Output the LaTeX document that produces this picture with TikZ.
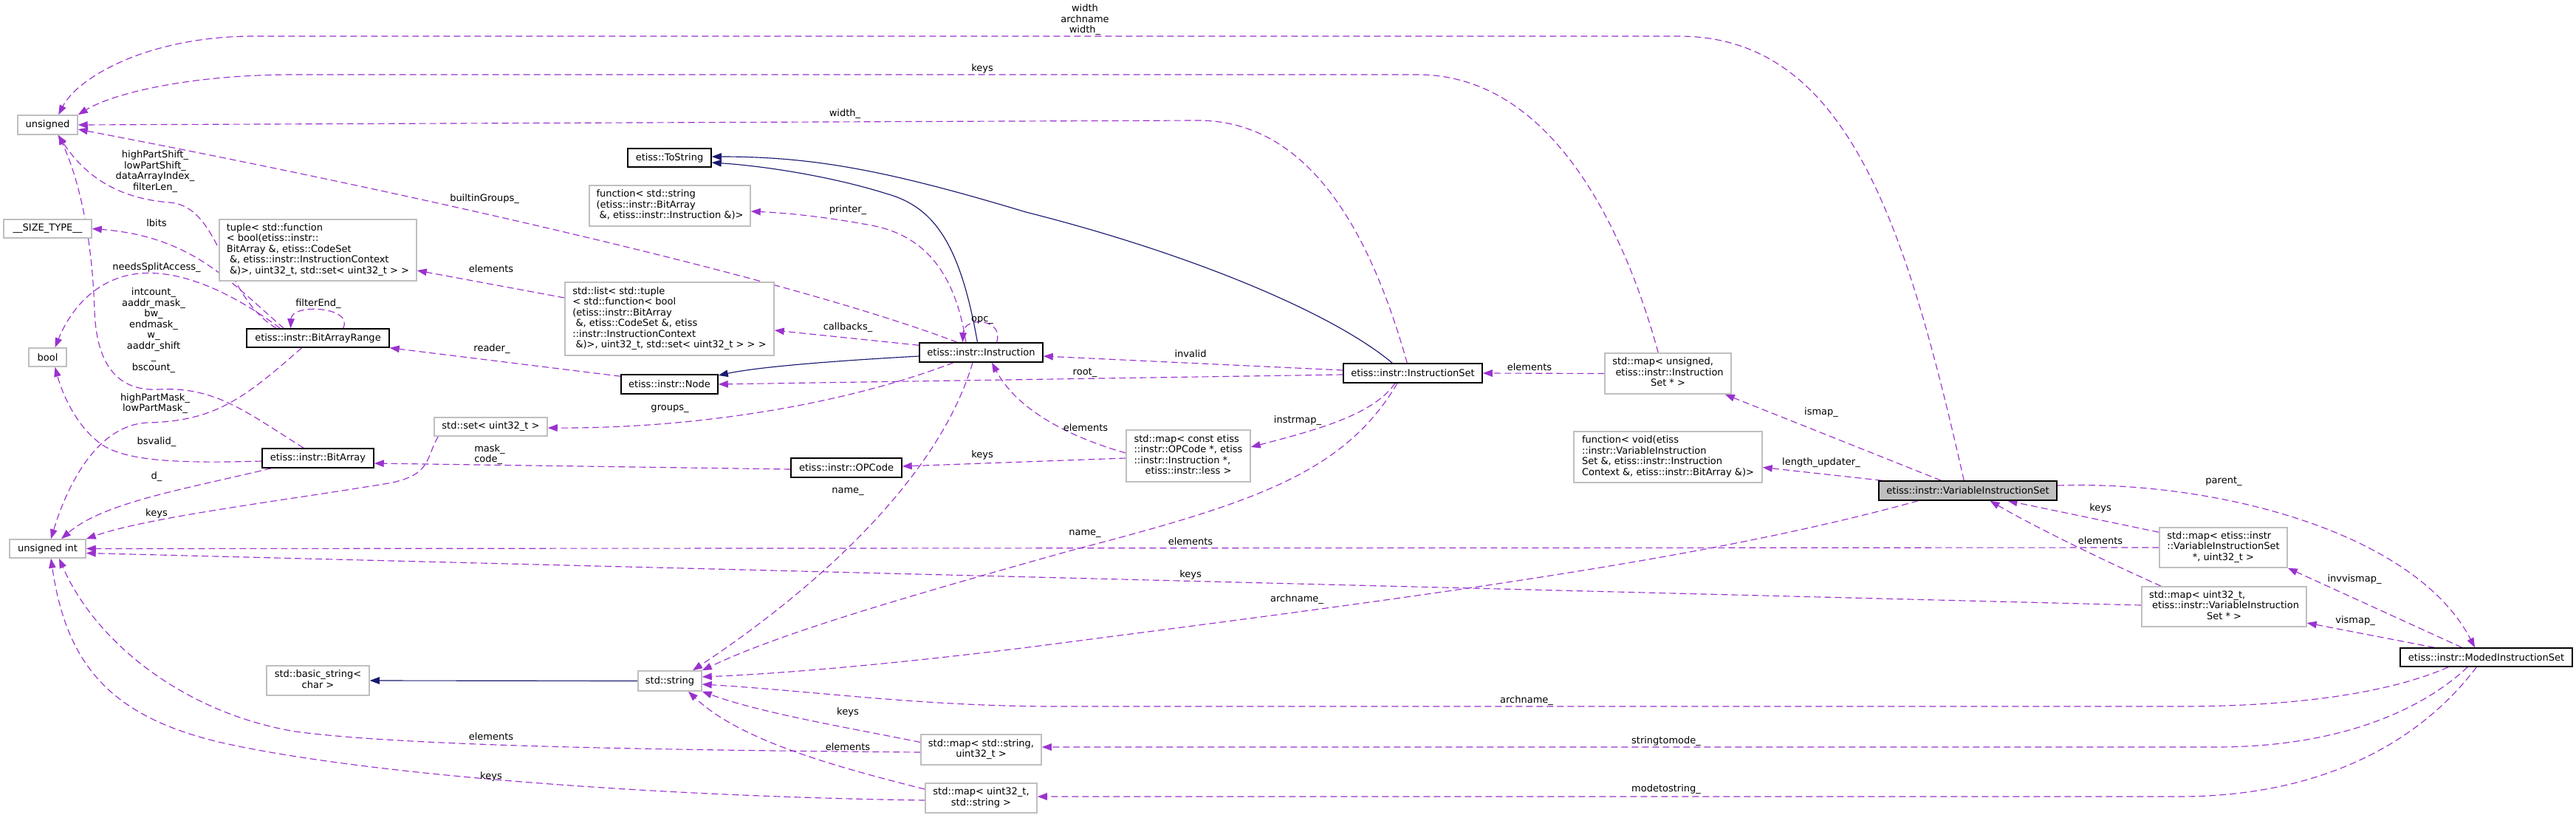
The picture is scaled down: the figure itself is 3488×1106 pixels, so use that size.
\documentclass[tikz,border=0pt]{standalone}
\usepackage{fontspec}
\setmainfont{DejaVu Sans}
\usetikzlibrary{arrows.meta}
\definecolor{dpurple}{HTML}{9A32CD}
\definecolor{dnavy}{HTML}{191970}
\definecolor{grey75}{HTML}{BFBFBF}
\newcommand\dxf{\fontsize{13}{14.5}\selectfont}
\newcommand\ctrline[1]{\multicolumn{1}{@{}c@{}}{#1}}
\pgfdeclarelayer{bg}
\pgfsetlayers{bg,main}
\begin{document}
\begin{tikzpicture}[x=1pt,y=-1pt,
 box/.style={rectangle, inner sep=0pt, line width=1.5pt, fill=white, font=\dxf, minimum height=26pt},
 cls/.style={box, draw=black},
 ext/.style={box, draw=grey75},
 use/.style={draw=dpurple, line width=1.15pt, dash pattern=on 9pt off 5pt, -{Triangle[length=13pt,width=9.5pt]}},
 inh/.style={draw=dnavy, line width=1.15pt, -{Triangle[length=13pt,width=9.5pt]}},
 elab/.style={font=\dxf, inner sep=0pt, align=center},
]
\useasboundingbox (0,0) rectangle (3488,1106);
% ---------- nodes ----------
\node[ext, minimum width=81pt] (uns) at (64.5,169) {unsigned};
\node[ext, minimum width=119pt, minimum height=25pt] (size) at (64.5,309.5) {\_\_SIZE\_TYPE\_\_};
\node[ext, minimum width=51pt, minimum height=25pt] (bool) at (64.5,483.5) {bool};
\node[ext, minimum width=103pt, minimum height=25pt] (uint) at (64.5,742.5) {unsigned int};
\node[ext, minimum width=267pt, minimum height=83pt] (tuple) at (430.5,338.5) {\begin{tabular}{@{}l@{}}tuple< std::function\\< bool(etiss::instr::\\BitArray \&, etiss::CodeSet\\\ \&, etiss::instr::InstructionContext\\\ \&)>, uint32\_t, std::set< uint32\_t > >\end{tabular}};
\node[cls, minimum width=193pt, minimum height=25pt] (bar) at (430.5,457.5) {etiss::instr::BitArrayRange};
\node[cls, minimum width=151pt] (ba) at (430.5,620) {etiss::instr::BitArray};
\node[ext, minimum width=139pt, minimum height=40pt] (bstr) at (430.5,921) {\begin{tabular}{@{}c@{}}std::basic\_string<\\char >\end{tabular}};
\node[ext, minimum width=153pt, minimum height=25pt] (set) at (664.5,577.5) {std::set< uint32\_t >};
\node[cls, minimum width=113pt, minimum height=25pt] (tostr) at (906.5,213.5) {etiss::ToString};
\node[ext, minimum width=218pt, minimum height=55pt] (fstr) at (907,278.5) {\begin{tabular}{@{}l@{}}function< std::string\\(etiss::instr::BitArray\\\ \&, etiss::instr::Instruction \&)>\end{tabular}};
\node[ext, minimum width=283pt, minimum height=99pt] (list) at (906.5,431.5) {\begin{tabular}{@{}l@{}}std::list< std::tuple\\< std::function< bool\\(etiss::instr::BitArray\\\ \&, etiss::CodeSet \&, etiss\\::instr::InstructionContext\\\ \&)>, uint32\_t, std::set< uint32\_t > > >\end{tabular}};
\node[cls, minimum width=131pt] (node) at (906.5,520) {etiss::instr::Node};
\node[cls, minimum width=167pt] (instr) at (1328.5,477) {etiss::instr::Instruction};
\node[cls, minimum width=150pt] (opc) at (1146,633) {etiss::instr::OPCode};
\node[ext, minimum width=86pt, minimum height=27pt] (str) at (907,921.5) {std::string};
\node[ext, minimum width=163pt, minimum height=41pt] (mss) at (1328.5,1014.5) {\begin{tabular}{@{}c@{}}std::map< std::string,\\uint32\_t >\end{tabular}};
\node[ext, minimum width=151pt, minimum height=40pt] (mus) at (1328.5,1080) {\begin{tabular}{@{}c@{}}std::map< uint32\_t,\\std::string >\end{tabular}};
\node[ext, minimum width=168pt, minimum height=70pt] (mop) at (1609,617) {\begin{tabular}{@{}l@{}}std::map< const etiss\\::instr::OPCode *, etiss\\::instr::Instruction *,\\\ctrline{etiss::instr::less >}\end{tabular}};
\node[cls, minimum width=188pt] (is) at (1913,505) {etiss::instr::InstructionSet};
\node[ext, minimum width=171pt, minimum height=55pt] (muis) at (2258.5,505.5) {\begin{tabular}{@{}l@{}}std::map< unsigned,\\\ etiss::instr::Instruction\\\ctrline{Set * >}\end{tabular}};
\node[ext, minimum width=255pt, minimum height=69pt] (fvoid) at (2258.5,618.5) {\begin{tabular}{@{}l@{}}function< void(etiss\\::instr::VariableInstruction\\Set \&, etiss::instr::Instruction\\Context \&, etiss::instr::BitArray \&)>\end{tabular}};
\node[cls, minimum width=241pt, fill=grey75] (vis) at (2664.5,664) {etiss::instr::VariableInstructionSet};
\node[ext, minimum width=173pt, minimum height=54pt] (mvu) at (3010.5,741) {\begin{tabular}{@{}l@{}}std::map< etiss::instr\\::VariableInstructionSet\\\ctrline{*, uint32\_t >}\end{tabular}};
\node[ext, minimum width=223pt, minimum height=54pt] (muv) at (3011.5,821) {\begin{tabular}{@{}l@{}}std::map< uint32\_t,\\\ etiss::instr::VariableInstruction\\\ctrline{Set * >}\end{tabular}};
\node[cls, minimum width=233pt, minimum height=25pt] (mis) at (3366.5,889.5) {etiss::instr::ModedInstructionSet};
% ---------- edges ----------
\begin{pgfonlayer}{bg}
\draw[use] ([xshift=116pt]vis.north west) .. controls (2580,300) and (2500,49) .. (2273,49) -- (344,49) .. controls (200,49) and (105,105) .. ([xshift=56pt]uns.north west);
\draw[use] ([xshift=73pt]muis.north west) .. controls (2205,330) and (2110,101) .. (1919,101) -- (400,101) .. controls (250,101) and (150,128) .. (uns.north east);
\draw[use] ([xshift=87pt]is.north west) .. controls (1860,330) and (1780,163) .. (1622,163) -- (uns.east);
\draw[use] ([xshift=52pt]instr.north west) .. controls (1050,370) and (500,250) .. ([yshift=-6pt]uns.east);
\draw[use] ([xshift=51pt]bar.north west) .. controls (310,380) and (260,320) .. (size.east);
\draw[use] ([xshift=46pt]bar.north west) .. controls (320,400) and (250,365) .. (190,370) .. controls (130,375) and (95,420) .. ([xshift=10pt]bool.north);
\draw[use] ([xshift=41pt]bar.north west) .. controls (300,400) and (300,280) .. (230,274) .. controls (150,268) and (110,230) .. ([xshift=14pt]uns.south);
\draw[use] ([xshift=34pt]bar.north) .. controls (480,415) and (395,410) .. ([xshift=-37pt]bar.north);
\draw[use] ([xshift=-19.5pt]ba.north) .. controls (330,555) and (290,523) .. (214,527) .. controls (150,530) and (130,480) .. (128,420) .. controls (125,330) and (110,250) .. ([xshift=15pt]uns.south);
\draw[use] ([xshift=-22pt]bar.south) .. controls (330,540) and (290,570) .. (200,572) .. controls (130,575) and (90,660) .. ([xshift=4.5pt]uint.north);
\draw[use] ([yshift=-4pt]ba.west) .. controls (250,627) and (175,625) .. (140,603) .. controls (105,580) and (85,535) .. ([xshift=10pt]bool.south);
\draw[use] ([xshift=13pt]ba.south west) .. controls (250,662) and (140,680) .. ([xshift=18.5pt]uint.north);
\draw[use] ([xshift=6pt]set.south west) .. controls (576,620) and (585,645) .. (520,655) .. controls (380,678) and (200,700) .. (uint.north east);
\draw[use] ([yshift=-2pt]opc.west) -- ([yshift=-7pt]ba.east);
\draw[use] (mvu.west) -- (uint.east);
\draw[use] ([yshift=2pt]muv.west) -- ([yshift=-6pt]uint.east);
\draw[use] ([yshift=-3.5pt]mss.west) .. controls (900,1015) and (550,1010) .. (400,990) .. controls (250,965) and (130,870) .. ([xshift=15.5pt]uint.south);
\draw[use] ([yshift=-3pt]mus.west) .. controls (900,1078) and (500,1050) .. (300,1005) .. controls (150,970) and (90,900) .. ([xshift=4.5pt]uint.south);
\draw[inh] (str.west) -- (bstr.east);
\draw[inh] ([xshift=-5pt]instr.north) .. controls (1300,330) and (1265,280) .. (1200,262) .. controls (1130,240) and (1040,225) .. ([yshift=-6.5pt]tostr.east);
\draw[inh] ([xshift=67pt]is.north west) .. controls (1800,420) and (1600,340) .. (1389,287) .. controls (1200,230) and (1100,212) .. ([yshift=1.5pt]tostr.east);
\draw[inh] ([yshift=-5pt]instr.west) .. controls (1100,490) and (1020,498) .. ([yshift=12pt]node.east);
\draw[use] ([yshift=-2pt]is.west) -- (node.east);
\draw[use] ([yshift=-3pt]node.north west) -- (bar.south east);
\draw[use] ([xshift=-20.5pt]instr.north) .. controls (1295,380) and (1260,320) .. (1180,305) .. controls (1110,292) and (1060,288) .. ([yshift=-7.5pt]fstr.east);
\draw[use] ([yshift=-4pt]instr.north west) -- ([yshift=-15.5pt]list.east);
\draw[use] ([xshift=21pt]instr.north) .. controls (1360,430) and (1305,428) .. ([xshift=-25pt]instr.north);
\draw[use] ([xshift=-37.5pt]instr.south) .. controls (1150,545) and (950,580) .. ([yshift=-1.5pt]set.east);
\draw[use] ([xshift=-11.5pt]instr.south) .. controls (1270,650) and (1100,800) .. ([xshift=31pt]str.north);
\draw[use] ([yshift=4pt]is.west) -- ([yshift=-5pt]instr.east);
\draw[use] ([yshift=4pt]mop.west) .. controls (1460,595) and (1380,560) .. ([xshift=14.5pt]instr.south);
\draw[use] ([yshift=-3pt]mop.west) -- ([yshift=2pt]opc.east);
\draw[use] ([xshift=-24pt]is.south) .. controls (1860,560) and (1790,580) .. ([yshift=12pt]mop.east);
\draw[use] ([xshift=-21pt]is.south) .. controls (1820,640) and (1700,680) .. (1450,745) .. controls (1200,815) and (1050,860) .. (str.north east);
\draw[use] ([xshift=54pt]vis.south west) .. controls (2300,760) and (1900,810) .. (1400,875) .. controls (1200,900) and (1050,912) .. ([yshift=5.5pt]str.east);
\draw[use] ([xshift=66pt]mis.south west) .. controls (3230,940) and (3100,956) .. (2950,956) -- (1430,956) .. controls (1250,956) and (1100,935) .. ([yshift=-4.5pt]str.east);
\draw[use] ([xshift=92pt]mis.south west) .. controls (3280,960) and (3170,1011) .. (3000,1011) -- ([yshift=3.5pt]mss.east);
\draw[use] ([xshift=104pt]mis.south west) .. controls (3280,1000) and (3150,1078) .. (2950,1078) -- ([yshift=2pt]mus.east);
\draw[use] ([yshift=10pt]mss.west) .. controls (1150,985) and (1030,965) .. (str.south east);
\draw[use] ([yshift=12pt]mus.west) .. controls (1120,1035) and (1000,1000) .. ([xshift=25pt]str.south);
\draw[use] (muis.west) -- (is.east);
\draw[use] ([xshift=85pt]vis.north west) -- ([xshift=-9pt]muis.south east);
\draw[use] ([xshift=5pt]vis.north west) -- ([yshift=-14pt]fvoid.east);
\draw[use] ([yshift=-7pt]mvu.north west) -- ([xshift=54pt]vis.south);
\draw[use] ([xshift=27pt]muv.north west) .. controls (2830,750) and (2750,710) .. ([xshift=30pt]vis.south);
\draw[use] ([yshift=7pt]vis.east) .. controls (3000,650) and (3270,720) .. ([xshift=-15.5pt]mis.north);
\draw[use] ([xshift=-33pt]mis.north) -- (mvu.south east);
\draw[use] ([xshift=47pt]mis.north west) -- ([yshift=-22pt]muv.east);
\draw[use] ([yshift=28.5pt]list.west) -- ([yshift=-27.5pt]tuple.east);
\end{pgfonlayer}
% ---------- edge labels ----------
\node[elab] (l1) at (1469,27) {width\\archname\\width\_};
\node[elab] (l2) at (1330,93) {keys};
\node[elab] (l3) at (1144,154) {width\_};
\node[elab] (l4) at (656,269) {builtinGroups\_};
\node[elab] (l5) at (210,232) {highPartShift\_\\lowPartShift\_\\dataArrayIndex\_\\filterLen\_};
\node[elab] (l6) at (212,302) {lbits};
\node[elab] (l7) at (212,362) {needsSplitAccess\_};
\node[elab] (l8) at (431,411) {filterEnd\_};
\node[elab] (l9) at (208,447) {intcount\_\\aaddr\_mask\_\\bw\_\\endmask\_\\w\_\\aaddr\_shift\\\_\\bscount\_};
\node[elab] (l10) at (210,546) {highPartMask\_\\lowPartMask\_};
\node[elab] (l11) at (212,598) {bsvalid\_};
\node[elab] (l12) at (212,645) {d\_};
\node[elab] (l13) at (212,695) {keys};
\node[elab, align=left] (l14) at (663,615) {mask\_\\code\_};
\node[elab] (l15) at (665,364) {elements};
\node[elab] (l16) at (666,472) {reader\_};
\node[elab] (l17) at (1148,284) {printer\_};
\node[elab] (l18) at (1148,443) {callbacks\_};
\node[elab] (l19) at (1330,433) {opc\_};
\node[elab] (l20) at (907,553) {groups\_};
\node[elab] (l21) at (1148,665) {name\_};
\node[elab] (l22) at (1469,504) {root\_};
\node[elab] (l23) at (1612,479) {invalid};
\node[elab] (l24) at (1470,579) {elements};
\node[elab] (l25) at (1330,616) {keys};
\node[elab] (l26) at (1757,569) {instrmap\_};
\node[elab] (l27) at (1469,722) {name\_};
\node[elab] (l28) at (1612,733) {elements};
\node[elab] (l29) at (1612,778) {keys};
\node[elab] (l30) at (1756,811) {archname\_};
\node[elab] (l31) at (2067,948) {archname\_};
\node[elab] (l32) at (2256,1003) {stringtomode\_};
\node[elab] (l33) at (2256,1068) {modetostring\_};
\node[elab] (l34) at (665,997) {elements};
\node[elab] (l35) at (665,1051) {keys};
\node[elab] (l36) at (1148,964) {keys};
\node[elab] (l37) at (1148,1011) {elements};
\node[elab] (l38) at (2071,497) {elements};
\node[elab] (l39) at (2466,558) {ismap\_};
\node[elab] (l40) at (2466,626) {length\_updater\_};
\node[elab] (l41) at (2844,688) {keys};
\node[elab] (l42) at (2844,732) {elements};
\node[elab] (l43) at (3011,651) {parent\_};
\node[elab] (l44) at (3188,784) {invvismap\_};
\node[elab] (l45) at (3189,840) {vismap\_};
\end{tikzpicture}
\end{document}
